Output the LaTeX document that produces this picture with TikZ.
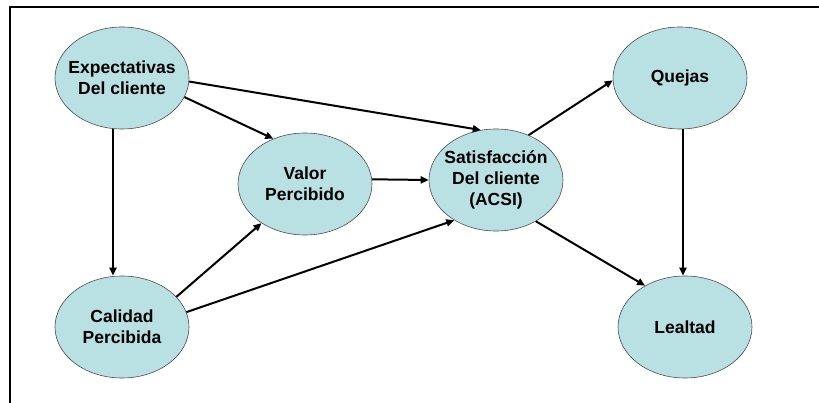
\documentclass[tikz,border=0pt]{standalone}
\usepackage{fontspec}
\setmainfont{Liberation Sans}
\usepackage{tikz}
\usetikzlibrary{shapes.geometric,arrows.meta}
\definecolor{cielo}{RGB}{185,224,226}

\begin{document}
\begin{tikzpicture}[x=1pt,y=-1pt]
\tikzset{B/.style={ellipse,draw=black!70,line width=0.6pt,fill=cielo,minimum width=134pt,minimum height=102pt,inner xsep=-8pt,inner ysep=0pt,align=center,font=\fontsize{17.5}{21}\selectfont\bfseries}}
\tikzset{A/.style={line width=2pt,-{Triangle[length=8pt,width=7pt]}}}

  \useasboundingbox (0,0) rectangle (819,403);
  \draw[line width=1.6pt] (10,403) -- (10,7) -- (819,7);

  \node[B] (exp) at (122,78)  {Expectativas\\Del cliente};
  \node[B] (val) at (305,184) {Valor\\Percibido};
  \node[B] (sat) at (496,180) {Satisfacción\\Del cliente\\(ACSI)};
  \node[B] (que) at (680,78)  {Quejas};
  \node[B] (cal) at (122,327) {Calidad\\Percibida};
  \node[B] (lea) at (685,327) {Lealtad};

  \draw[A] ([xshift=-9pt]exp.south) -- ([xshift=-9pt]cal.north);
  \draw[A] (exp.-17) -- (val.125);
  \draw[A] (exp.-3) -- (sat.107);
  \draw[A] (val.4) -- (sat.west);
  \draw[A] (cal.29) -- (val.-138);
  \draw[A] (cal.13) -- (sat.-136);
  \draw[A] (sat.54) -- (que.-178);
  \draw[A] (sat.-46) -- (lea.134);
  \draw[A] ([xshift=3pt]que.south) -- ([xshift=-2pt]lea.north);
\end{tikzpicture}
\end{document}
